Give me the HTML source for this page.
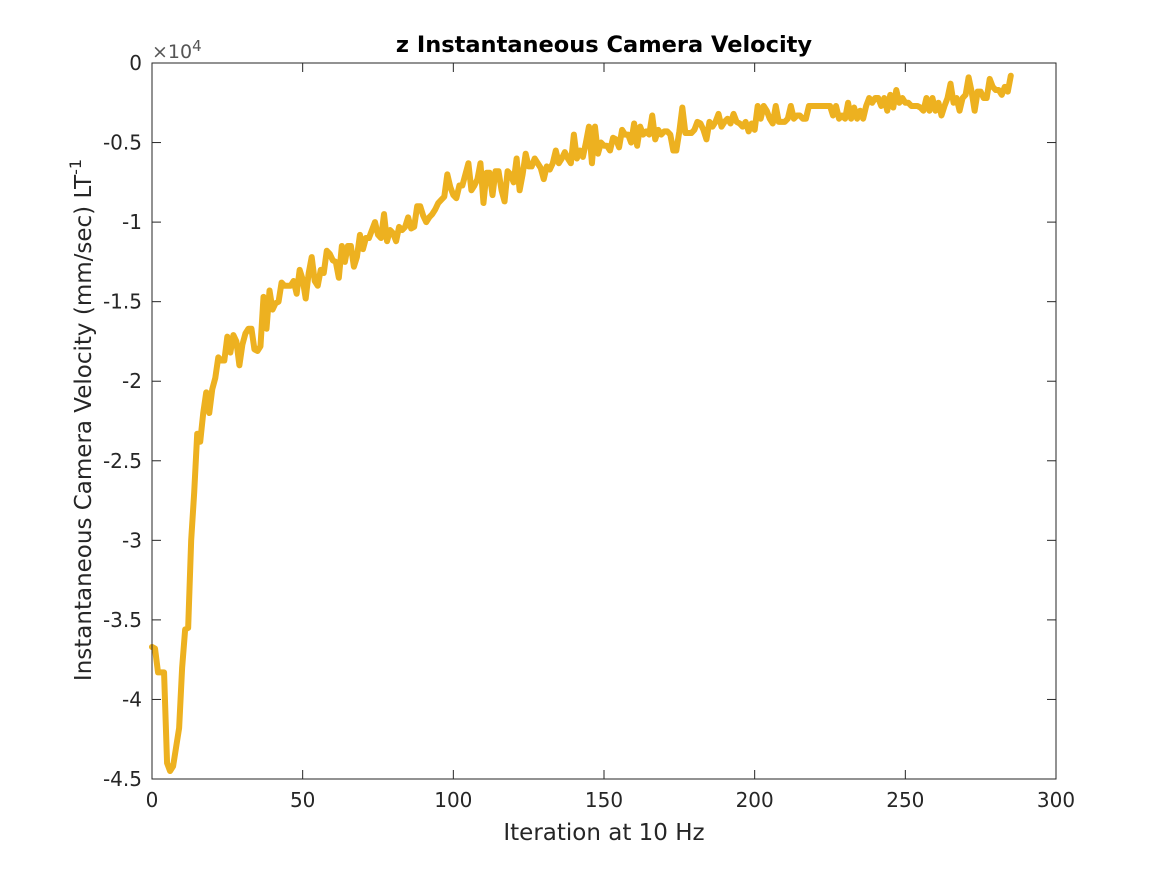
<!DOCTYPE html>
<html><head><meta charset="utf-8"><style>
body{margin:0;background:#fff;}
svg text{font-family:"DejaVu Sans","Liberation Sans",sans-serif;fill:#262626;}
</style></head><body>
<svg width="1167" height="875" xmlns="http://www.w3.org/2000/svg">
<rect width="1167" height="875" fill="#fff"/>
<g id="axes"></g>
<polyline id="line" fill="none" stroke="#EDB120" stroke-width="6" stroke-linejoin="round" stroke-linecap="round"/>
<rect x="152" y="63" width="904" height="716" fill="none" stroke="#262626" stroke-width="1"/>
<text x="604" y="52" text-anchor="middle" font-size="22.5" font-weight="bold" style="fill:#000">z Instantaneous Camera Velocity</text>
<text x="152" y="58" font-size="19" style="fill:#555">×10<tspan dy="-7" font-size="15">4</tspan></text>
<text x="604" y="840" text-anchor="middle" font-size="23">Iteration at 10 Hz</text>
<text transform="translate(91,420) rotate(-90)" text-anchor="middle" font-size="23">Instantaneous Camera Velocity (mm/sec) LT<tspan dy="-10" font-size="16">-1</tspan></text>
</svg>
<script>
const xTicks=[0,50,100,150,200,250,300];
const yTicks=[0,-0.5,-1,-1.5,-2,-2.5,-3,-3.5,-4,-4.5];
const yTickLabels=["0","-0.5","-1","-1.5","-2","-2.5","-3","-3.5","-4","-4.5"];
const velocity=[-3.67,-3.68,-3.83,-3.83,-3.83,-4.4,-4.45,-4.42,-4.3,-4.18,-3.8,-3.56,-3.55,-3.0,-2.7,-2.33,-2.38,-2.2,-2.07,-2.2,-2.05,-1.98,-1.85,-1.87,-1.87,-1.72,-1.82,-1.71,-1.75,-1.9,-1.77,-1.7,-1.67,-1.67,-1.8,-1.81,-1.78,-1.47,-1.67,-1.43,-1.55,-1.51,-1.5,-1.38,-1.4,-1.4,-1.4,-1.37,-1.45,-1.3,-1.36,-1.48,-1.32,-1.22,-1.37,-1.4,-1.3,-1.32,-1.18,-1.2,-1.24,-1.25,-1.35,-1.15,-1.25,-1.15,-1.15,-1.28,-1.22,-1.08,-1.17,-1.1,-1.1,-1.05,-1.0,-1.08,-1.1,-0.95,-1.12,-1.05,-1.07,-1.12,-1.03,-1.05,-1.03,-0.97,-1.04,-1.03,-0.9,-0.9,-0.96,-1.0,-0.97,-0.95,-0.92,-0.88,-0.86,-0.84,-0.7,-0.78,-0.83,-0.85,-0.77,-0.77,-0.7,-0.63,-0.8,-0.77,-0.73,-0.63,-0.88,-0.69,-0.69,-0.83,-0.68,-0.68,-0.8,-0.87,-0.68,-0.7,-0.75,-0.6,-0.8,-0.7,-0.57,-0.65,-0.65,-0.6,-0.63,-0.66,-0.73,-0.65,-0.67,-0.63,-0.55,-0.63,-0.6,-0.56,-0.6,-0.63,-0.45,-0.6,-0.55,-0.59,-0.5,-0.4,-0.63,-0.4,-0.57,-0.5,-0.52,-0.52,-0.55,-0.47,-0.48,-0.53,-0.42,-0.45,-0.45,-0.5,-0.38,-0.52,-0.4,-0.45,-0.43,-0.45,-0.33,-0.48,-0.42,-0.45,-0.43,-0.43,-0.45,-0.55,-0.55,-0.43,-0.28,-0.44,-0.44,-0.44,-0.42,-0.37,-0.38,-0.42,-0.48,-0.37,-0.4,-0.37,-0.32,-0.4,-0.37,-0.35,-0.38,-0.32,-0.37,-0.38,-0.4,-0.37,-0.43,-0.38,-0.42,-0.27,-0.35,-0.27,-0.3,-0.35,-0.38,-0.27,-0.37,-0.37,-0.37,-0.35,-0.27,-0.35,-0.33,-0.33,-0.35,-0.35,-0.27,-0.27,-0.27,-0.27,-0.27,-0.27,-0.27,-0.27,-0.33,-0.27,-0.35,-0.33,-0.35,-0.25,-0.35,-0.28,-0.35,-0.3,-0.35,-0.27,-0.22,-0.25,-0.22,-0.22,-0.27,-0.22,-0.3,-0.2,-0.28,-0.17,-0.25,-0.22,-0.25,-0.25,-0.27,-0.27,-0.27,-0.28,-0.3,-0.22,-0.3,-0.22,-0.3,-0.25,-0.33,-0.27,-0.22,-0.13,-0.25,-0.22,-0.3,-0.22,-0.2,-0.09,-0.18,-0.3,-0.18,-0.18,-0.22,-0.22,-0.1,-0.15,-0.17,-0.17,-0.2,-0.15,-0.18,-0.08];
const X0=152,X1=1056,Y0=63,Y1=779;
const sx=v=>X0+(v-0)/(300-0)*(X1-X0);
const sy=v=>Y0+(0-v)/(4.5)*(Y1-Y0);
const NS="http://www.w3.org/2000/svg";
const ax=document.getElementById('axes');
xTicks.forEach(t=>{
  const x=sx(t);
  [[Y1,Y1-9],[Y0,Y0+9]].forEach(([a,b])=>{
    const l=document.createElementNS(NS,'line');
    l.setAttribute('x1',x);l.setAttribute('x2',x);l.setAttribute('y1',a);l.setAttribute('y2',b);
    l.setAttribute('stroke','#262626');
    
    
    ax.appendChild(l);
  });
  const tx=document.createElementNS(NS,'text');
  tx.setAttribute('x',x);tx.setAttribute('y',Y1+28);tx.setAttribute('text-anchor','middle');tx.setAttribute('font-size','20');
  tx.textContent=t;
  
  
  ax.appendChild(tx);
});
yTicks.forEach((t,i)=>{
  const y=sy(t);
  [[X0,X0+9],[X1,X1-9]].forEach(([a,b])=>{
    const l=document.createElementNS(NS,'line');
    l.setAttribute('x1',a);l.setAttribute('x2',b);l.setAttribute('y1',y);l.setAttribute('y2',y);
    l.setAttribute('stroke','#262626');
    
    
    ax.appendChild(l);
  });
  const tx=document.createElementNS(NS,'text');
  tx.setAttribute('x',X0-10);tx.setAttribute('y',y+7);tx.setAttribute('text-anchor','end');tx.setAttribute('font-size','20');
  tx.textContent=yTickLabels[i];
  
  
  ax.appendChild(tx);
});
document.getElementById('line').setAttribute('points',velocity.map((v,i)=>sx(i)+','+sy(v)).join(' '));
</script>
</body></html>
